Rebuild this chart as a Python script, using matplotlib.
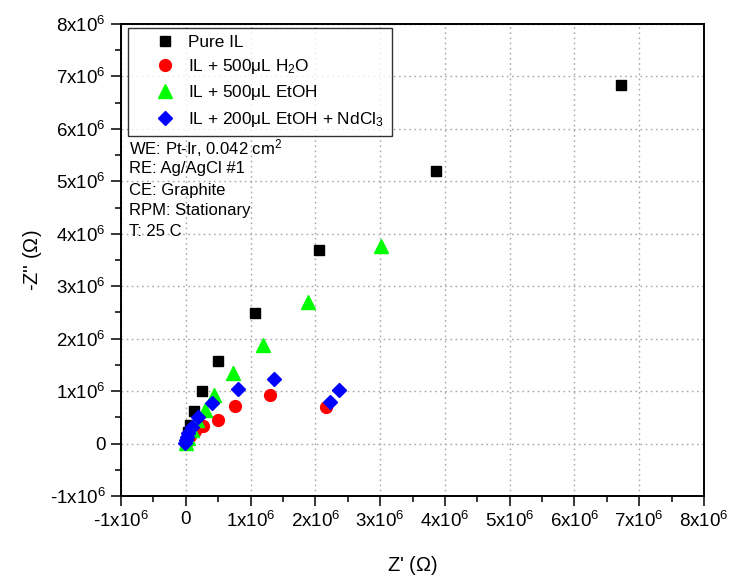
import matplotlib
matplotlib.use("Agg")
import matplotlib.pyplot as plt
from matplotlib.ticker import FixedLocator, FuncFormatter, MultipleLocator

plt.rcParams['font.family'] = ['Liberation Sans', 'DejaVu Sans']
plt.rcParams['mathtext.fontset'] = 'custom'
plt.rcParams['mathtext.rm'] = 'Liberation Sans'
plt.rcParams['mathtext.it'] = 'Liberation Sans:italic'
plt.rcParams['mathtext.default'] = 'rm'

# Nyquist data, Z' and -Z'' in units of 1e6 ohm
pure_re = [6.72, 3.86, 2.05, 1.07, 0.50, 0.25, 0.13, 0.06, 0.03, 0.02, 0.00]
pure_im = [6.84, 5.20, 3.69, 2.49, 1.57, 1.00, 0.62, 0.35, 0.22, 0.10, 0.03]

h2o_re = [2.17, 1.30, 0.76, 0.50, 0.26, 0.14, 0.06, 0.02, 0.00]
h2o_im = [0.70, 0.93, 0.72, 0.45, 0.34, 0.23, 0.15, 0.07, 0.02]

etoh_re = [3.01, 1.89, 1.19, 0.73, 0.44, 0.29, 0.17, 0.10, 0.03, 0.00]
etoh_im = [3.77, 2.70, 1.88, 1.34, 0.93, 0.64, 0.45, 0.26, 0.10, 0.02]

nd_re = [2.37, 2.23, 1.36, 0.80, 0.40, 0.19, 0.09, 0.04, 0.02, 0.00, -0.01]
nd_im = [1.02, 0.80, 1.23, 1.04, 0.78, 0.51, 0.32, 0.20, 0.12, 0.06, 0.02]

labels = ['Pure IL',
          r'IL + 500$\mu$L H$_2$O',
          r'IL + 500$\mu$L EtOH',
          r'IL + 200$\mu$L EtOH + NdCl$_3$']

conditions = ['WE: Pt-Ir, 0.042 cm$^2$',
              'RE: Ag/AgCl #1',
              'CE: Graphite',
              'RPM: Stationary',
              'T: 25 C']

scale = 1e6

fig = plt.figure(figsize=(7.30, 5.77), dpi=100)
ax = fig.add_axes([121 / 730, 1 - 496 / 577, 583 / 730, 472 / 577])

ax.plot([v * scale for v in pure_re], [v * scale for v in pure_im], 's',
        color='black', ms=7, ls='none', label=labels[0], zorder=3)
ax.plot([v * scale for v in h2o_re], [v * scale for v in h2o_im], 'o',
        color='#ff0000', ms=8.5, ls='none', label=labels[1], zorder=4)
ax.plot([v * scale for v in etoh_re], [v * scale for v in etoh_im], '^',
        color='#00ff00', ms=9.5, ls='none', label=labels[2], zorder=5)
ax.plot([v * scale for v in nd_re], [v * scale for v in nd_im], 'D',
        color='#0000ff', ms=7.5, ls='none', label=labels[3], zorder=6)

ax.set_xlim(-1e6, 8e6)
ax.set_ylim(-1e6, 8e6)


def sci_fmt(v, pos):
    n = int(round(v / scale))
    if n == 0:
        return '0'
    return r'%dx10$^{6}$' % n


majors = [i * scale for i in range(-1, 9)]
for axis in (ax.xaxis, ax.yaxis):
    axis.set_major_locator(FixedLocator(majors))
    axis.set_minor_locator(MultipleLocator(0.5 * scale))
    axis.set_major_formatter(FuncFormatter(sci_fmt))

ax.tick_params(which='major', direction='out', length=7, width=1.1,
               labelsize=13.5, pad=4)
ax.tick_params(which='minor', direction='out', length=4, width=1.1)
ax.grid(True, which='major', color='#a8a8a8', ls=(0, (1.2, 2.5)), lw=1.0)
ax.set_axisbelow(True)
for s in ax.spines.values():
    s.set_linewidth(1.4)

ax.set_xlabel("Z' ($\\Omega$)", fontsize=14.5, labelpad=16)
ax.set_ylabel("-Z'' ($\\Omega$)", fontsize=14.5, labelpad=4)

# legend box spans a fixed width; marker centred, text close behind it
leg = ax.legend(loc='upper left',
                bbox_to_anchor=(7 / 583, 1 - 4 / 472, 264 / 583, 0),
                mode='expand', borderaxespad=0, fontsize=12.4, frameon=True,
                fancybox=False, edgecolor='black', handletextpad=-0.4,
                borderpad=0.4, labelspacing=0.42, handlelength=3.5,
                numpoints=1)
leg.get_frame().set_linewidth(1.0)

y0 = 1 - (148 - 24) / 472
for i, line in enumerate(conditions):
    ax.text(8 / 583, y0 - i * 21 / 472, line, transform=ax.transAxes,
            fontsize=12, va='center', ha='left')

fig.savefig('out.png', dpi=100)
